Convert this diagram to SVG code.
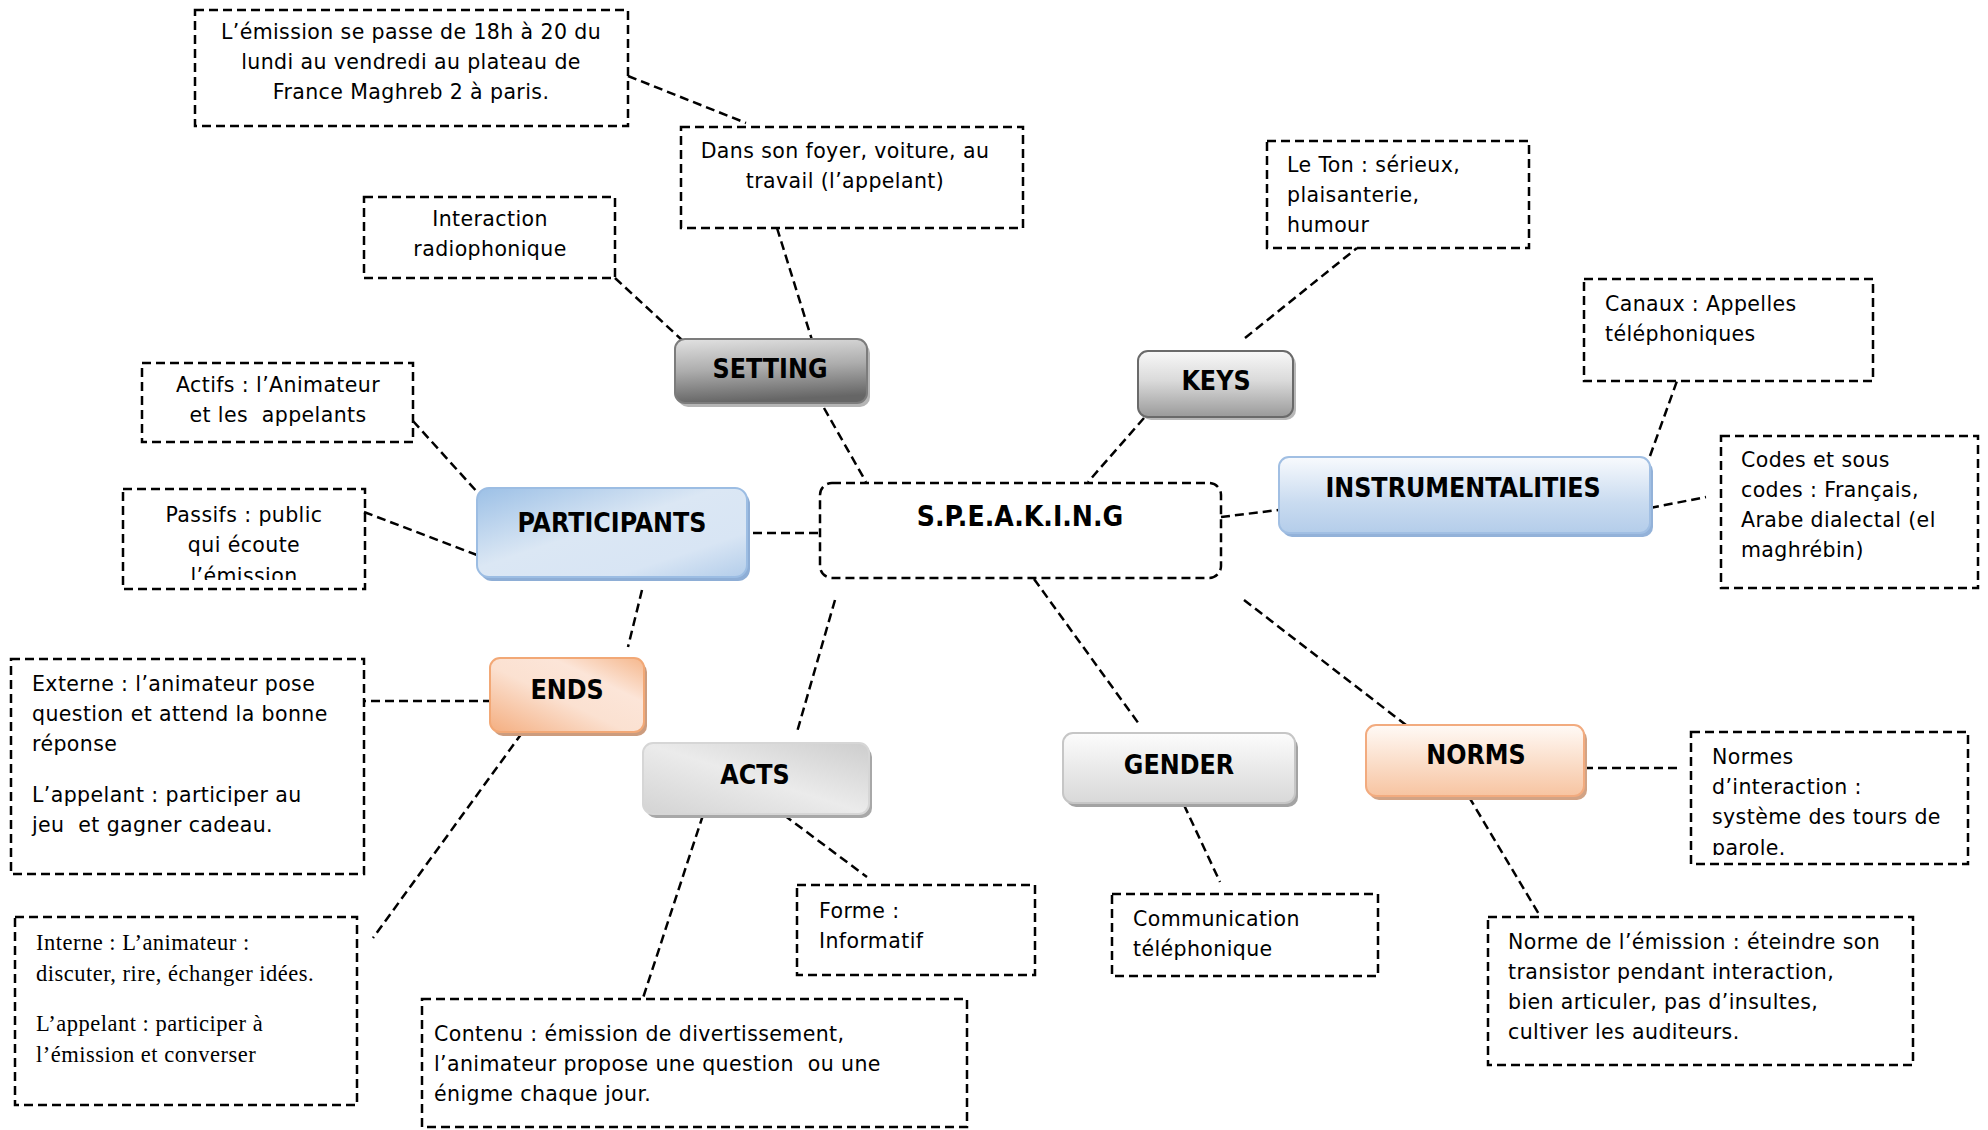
<svg xmlns="http://www.w3.org/2000/svg" width="1988" height="1130" viewBox="0 0 1988 1130">
<style>
.bx{fill:none;stroke:#000;stroke-width:2.5;stroke-dasharray:9 5}
.ln{fill:none;stroke:#000;stroke-width:2.5;stroke-dasharray:9 5}
.t{font-family:"DejaVu Sans",sans-serif;font-size:20.5px;letter-spacing:0.4px;fill:#000;white-space:pre}
.c{text-anchor:middle}
.s{font-family:"Liberation Serif",serif;font-size:22.5px;letter-spacing:0.5px;fill:#000;white-space:pre}
.n{font-family:"DejaVu Sans Condensed","DejaVu Sans",sans-serif;font-stretch:condensed;font-weight:bold;font-size:26.5px;text-anchor:middle;fill:#000}
.sp{font-family:"DejaVu Sans Condensed","DejaVu Sans",sans-serif;font-stretch:condensed;font-weight:bold;font-size:28px;text-anchor:middle;fill:#000}
</style>
<defs>
<linearGradient id="gSet" x1="0" y1="0" x2="0.15" y2="1"><stop offset="0" stop-color="#e2e2e2"/><stop offset="0.5" stop-color="#adadad"/><stop offset="1" stop-color="#666666"/></linearGradient>
<linearGradient id="gKeys" x1="0" y1="0" x2="0" y2="1"><stop offset="0" stop-color="#f8f8f8"/><stop offset="0.45" stop-color="#dadada"/><stop offset="1" stop-color="#9a9a9a"/></linearGradient>
<linearGradient id="gInst" x1="0" y1="0" x2="0" y2="1"><stop offset="0" stop-color="#f8fafd"/><stop offset="0.6" stop-color="#c9dbf0"/><stop offset="1" stop-color="#b4cdea"/></linearGradient>
<linearGradient id="gPart" x1="0" y1="0" x2="1" y2="1"><stop offset="0" stop-color="#9cc0e6"/><stop offset="0.45" stop-color="#dbe7f4"/><stop offset="0.75" stop-color="#d8e5f4"/><stop offset="1" stop-color="#b3cdea"/></linearGradient>
<linearGradient id="gEnds" x1="0" y1="1" x2="1" y2="0"><stop offset="0" stop-color="#f4ae80"/><stop offset="0.45" stop-color="#fbe1d1"/><stop offset="0.7" stop-color="#fce5d8"/><stop offset="1" stop-color="#f5b78c"/></linearGradient>
<linearGradient id="gActs" x1="0" y1="1" x2="1" y2="0"><stop offset="0" stop-color="#d3d3d3"/><stop offset="0.5" stop-color="#ebebeb"/><stop offset="1" stop-color="#cdcdcd"/></linearGradient>
<linearGradient id="gGen" x1="0" y1="0" x2="0" y2="1"><stop offset="0" stop-color="#fcfcfc"/><stop offset="1" stop-color="#d8d8d8"/></linearGradient>
<linearGradient id="gNorm" x1="0" y1="0" x2="0" y2="1"><stop offset="0" stop-color="#fffaf6"/><stop offset="1" stop-color="#f7c4a1"/></linearGradient>
<clipPath id="clipB5"><rect x="123" y="489" width="242" height="91"/></clipPath>
<clipPath id="clipB12"><rect x="1691" y="732" width="277" height="123"/></clipPath>
</defs>
<rect width="1988" height="1130" fill="#fff"/>

<g id="connectors">
<line class="ln" x1="628" y1="76" x2="746" y2="123"/>
<line class="ln" x1="777" y1="228" x2="812" y2="340"/>
<line class="ln" x1="615" y1="278" x2="682" y2="340"/>
<line class="ln" x1="824" y1="408" x2="866" y2="482"/>
<line class="ln" x1="1245" y1="338" x2="1357" y2="248"/>
<line class="ln" x1="1144" y1="418" x2="1088" y2="482"/>
<line class="ln" x1="1650" y1="456" x2="1677" y2="381"/>
<line class="ln" x1="1221" y1="517" x2="1287" y2="509"/>
<line class="ln" x1="1650" y1="508" x2="1706" y2="497"/>
<line class="ln" x1="413" y1="421" x2="479" y2="494"/>
<line class="ln" x1="364" y1="512" x2="477" y2="555"/>
<line class="ln" x1="753" y1="533" x2="820" y2="533"/>
<line class="ln" x1="642" y1="590" x2="628" y2="647"/>
<line class="ln" x1="492" y1="701" x2="364" y2="701"/>
<line class="ln" x1="522" y1="733" x2="373" y2="938"/>
<line class="ln" x1="835" y1="600" x2="797" y2="732"/>
<line class="ln" x1="703" y1="815" x2="643" y2="998"/>
<line class="ln" x1="784" y1="815" x2="867" y2="877"/>
<line class="ln" x1="1034" y1="579" x2="1139" y2="724"/>
<line class="ln" x1="1184" y1="805" x2="1220" y2="882"/>
<line class="ln" x1="1244" y1="600" x2="1406" y2="725"/>
<line class="ln" x1="1584" y1="768" x2="1678" y2="768"/>
<line class="ln" x1="1469" y1="797" x2="1540" y2="916"/>
</g>

<g id="speaking">
<rect class="bx" x="820" y="483" width="401" height="95" rx="12"/>
<text class="sp" x="1020" y="526">S.P.E.A.K.I.N.G</text>
</g>

<g id="setting">
<rect x="678" y="343" width="192" height="64" rx="10" fill="#b5b5b5"/>
<rect x="675" y="339" width="192" height="64" rx="10" fill="url(#gSet)" stroke="#7c7c7c" stroke-width="2"/>
<text class="n" x="770" y="378">SETTING</text>
</g>

<g id="keys">
<rect x="1141" y="354" width="155" height="66" rx="10" fill="#b8b8b8"/>
<rect x="1138" y="351" width="155" height="66" rx="10" fill="url(#gKeys)" stroke="#6a6a6a" stroke-width="2"/>
<text class="n" x="1216" y="390">KEYS</text>
</g>

<g id="instrumentalities">
<rect x="1282" y="461" width="371" height="76" rx="10" fill="#93b2d9"/>
<rect x="1279" y="457" width="371" height="76" rx="10" fill="url(#gInst)" stroke="#a1bfe3" stroke-width="2"/>
<text class="n" x="1463" y="497">INSTRUMENTALITIES</text>
</g>

<g id="participants">
<rect x="480" y="492" width="270" height="89" rx="12" fill="#8eaed6"/>
<rect x="477" y="488" width="270" height="89" rx="12" fill="url(#gPart)" stroke="#9cbde3" stroke-width="2"/>
<text class="n" x="612" y="532">PARTICIPANTS</text>
</g>

<g id="ends">
<rect x="493" y="662" width="154" height="74" rx="10" fill="#cc9c7e"/>
<rect x="490" y="658" width="154" height="74" rx="10" fill="url(#gEnds)" stroke="#f2a876" stroke-width="2"/>
<text class="n" x="567" y="699">ENDS</text>
</g>

<g id="acts">
<rect x="646" y="747" width="226" height="71" rx="10" fill="#a8a8a8"/>
<rect x="643" y="743" width="226" height="71" rx="10" fill="url(#gActs)" stroke="#d6d6d6" stroke-width="2"/>
<text class="n" x="755" y="784">ACTS</text>
</g>

<g id="gender">
<rect x="1066" y="737" width="232" height="70" rx="10" fill="#a3a3a3"/>
<rect x="1063" y="733" width="232" height="70" rx="10" fill="url(#gGen)" stroke="#c6c6c6" stroke-width="2"/>
<text class="n" x="1179" y="774">GENDER</text>
</g>

<g id="norms">
<rect x="1369" y="729" width="218" height="71" rx="10" fill="#d2a385"/>
<rect x="1366" y="725" width="218" height="71" rx="10" fill="url(#gNorm)" stroke="#f2ab7f" stroke-width="2"/>
<text class="n" x="1476" y="764">NORMS</text>
</g>

<g id="b-emission">
<rect class="bx" x="195" y="10" width="433" height="116"/>
<text class="t c" x="411" y="39">L’émission se passe de 18h à 20 du</text>
<text class="t c" x="411" y="69">lundi au vendredi au plateau de</text>
<text class="t c" x="411" y="99">France Maghreb 2 à paris.</text>
</g>

<g id="b-foyer">
<rect class="bx" x="681" y="127" width="342" height="101"/>
<text class="t c" x="845" y="158">Dans son foyer, voiture, au</text>
<text class="t c" x="845" y="188">travail (l’appelant)</text>
</g>

<g id="b-interaction">
<rect class="bx" x="364" y="197" width="251" height="81"/>
<text class="t c" x="490" y="226">Interaction</text>
<text class="t c" x="490" y="256">radiophonique</text>
</g>

<g id="b-actifs">
<rect class="bx" x="142" y="363" width="271" height="79"/>
<text class="t c" x="278" y="392">Actifs : l’Animateur</text>
<text class="t c" x="278" y="422">et les  appelants</text>
</g>

<g id="b-passifs">
<rect class="bx" x="123" y="489" width="242" height="100"/>
<g clip-path="url(#clipB5)">
<text class="t c" x="244" y="522">Passifs : public</text>
<text class="t c" x="244" y="552">qui écoute</text>
<text class="t c" x="244" y="583">l’émission</text>
</g>
</g>

<g id="b-externe">
<rect class="bx" x="11" y="659" width="353" height="215"/>
<text class="t" x="32" y="691">Externe : l’animateur pose</text>
<text class="t" x="32" y="721">question et attend la bonne</text>
<text class="t" x="32" y="751">réponse</text>
<text class="t" x="32" y="802">L’appelant : participer au</text>
<text class="t" x="32" y="832">jeu  et gagner cadeau.</text>
</g>

<g id="b-interne">
<rect class="bx" x="15" y="917" width="342" height="188"/>
<text class="s" x="36" y="950">Interne : L’animateur :</text>
<text class="s" x="36" y="981">discuter, rire, échanger idées.</text>
<text class="s" x="36" y="1031">L’appelant : participer à</text>
<text class="s" x="36" y="1062">l’émission et converser</text>
</g>

<g id="b-contenu">
<rect class="bx" x="422" y="999" width="545" height="128"/>
<text class="t" x="434" y="1041">Contenu : émission de divertissement,</text>
<text class="t" x="434" y="1071">l’animateur propose une question  ou une</text>
<text class="t" x="434" y="1101">énigme chaque jour.</text>
</g>

<g id="b-forme">
<rect class="bx" x="797" y="885" width="238" height="90"/>
<text class="t" x="819" y="918">Forme :</text>
<text class="t" x="819" y="948">Informatif</text>
</g>

<g id="b-communication">
<rect class="bx" x="1112" y="894" width="266" height="82"/>
<text class="t" x="1133" y="926">Communication</text>
<text class="t" x="1133" y="956">téléphonique</text>
</g>

<g id="b-norme">
<rect class="bx" x="1488" y="917" width="425" height="148"/>
<text class="t" x="1508" y="949">Norme de l’émission : éteindre son</text>
<text class="t" x="1508" y="979">transistor pendant interaction,</text>
<text class="t" x="1508" y="1009">bien articuler, pas d’insultes,</text>
<text class="t" x="1508" y="1039">cultiver les auditeurs.</text>
</g>

<g id="b-normes">
<rect class="bx" x="1691" y="732" width="277" height="132"/>
<g clip-path="url(#clipB12)">
<text class="t" x="1712" y="764">Normes</text>
<text class="t" x="1712" y="794">d’interaction :</text>
<text class="t" x="1712" y="824">système des tours de</text>
<text class="t" x="1712" y="855">parole.</text>
</g>
</g>

<g id="b-codes">
<rect class="bx" x="1721" y="436" width="257" height="152"/>
<text class="t" x="1741" y="467">Codes et sous</text>
<text class="t" x="1741" y="497">codes : Français,</text>
<text class="t" x="1741" y="527">Arabe dialectal (el</text>
<text class="t" x="1741" y="557">maghrébin)</text>
</g>

<g id="b-canaux">
<rect class="bx" x="1584" y="279" width="289" height="102"/>
<text class="t" x="1605" y="311">Canaux : Appelles</text>
<text class="t" x="1605" y="341">téléphoniques</text>
</g>

<g id="b-ton">
<rect class="bx" x="1267" y="141" width="262" height="107"/>
<text class="t" x="1287" y="172">Le Ton : sérieux,</text>
<text class="t" x="1287" y="202">plaisanterie,</text>
<text class="t" x="1287" y="232">humour</text>
</g>
</svg>
